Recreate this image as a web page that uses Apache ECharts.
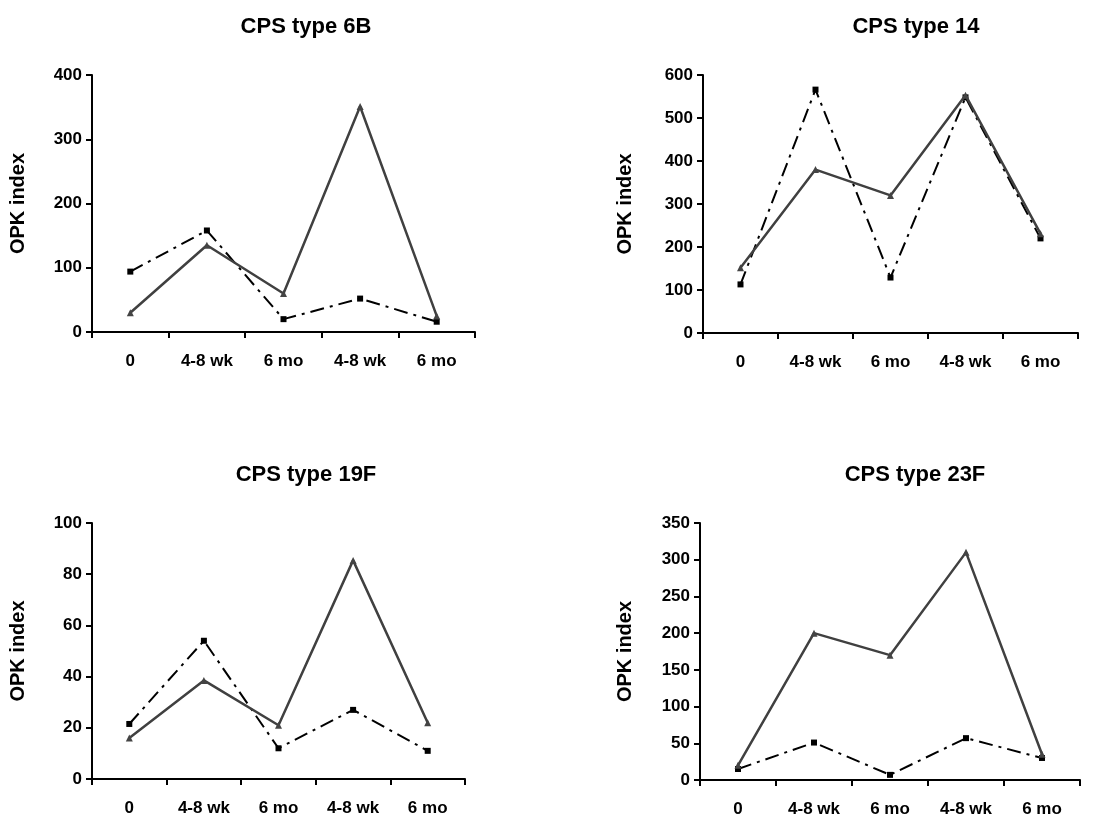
<!DOCTYPE html>
<html>
<head>
<meta charset="utf-8">
<script src="https://cdn.jsdelivr.net/npm/echarts@6/dist/echarts.min.js"></script>
<style>
html,body{margin:0;padding:0;background:#fff;}
#c{width:1112px;height:821px;}
</style>
</head>
<body>
<div id="c"></div>
<script>
const categories = ['0', '4-8 wk', '6 mo', '4-8 wk', '6 mo'];
const panelTitles = ['CPS type 6B', 'CPS type 14', 'CPS type 19F', 'CPS type 23F'];
const yMax = [400, 600, 100, 350];
const yInterval = [100, 100, 20, 50];
// solid gray line with triangle markers
const solid6B  = [30, 135, 60, 351, 25];
const solid14  = [152, 380, 320, 553, 231];
const solid19F = [16, 38.5, 21, 85.4, 22];
const solid23F = [20, 200, 170, 310, 35];
// dash-dot black line with square markers
const dashed6B  = [94, 158, 20, 52, 16];
const dashed14  = [113, 566, 129, 548, 220];
const dashed19F = [21.5, 54, 12, 27, 11];
const dashed23F = [15, 51, 7, 57, 30];

const solidData = [solid6B, solid14, solid19F, solid23F];
const dashedData = [dashed6B, dashed14, dashed19F, dashed23F];

const FONT = '"Liberation Sans", Arial, sans-serif';
const grids = [
  {left: 92, top: 75, width: 383, height: 257},
  {left: 703, top: 75, width: 375, height: 258},
  {left: 92, top: 523, width: 373, height: 256},
  {left: 700, top: 523, width: 380, height: 257}
];
const titlePos = [[301, 11], [911, 11], [301, 459], [910, 459]];
const nameGaps = [64, 68, 64, 65];

const option = {
  animation: false,
  backgroundColor: '#fff',
  title: panelTitles.map((t, i) => ({
    text: t, left: titlePos[i][0], top: titlePos[i][1], textAlign: 'center',
    textStyle: {fontFamily: FONT, fontWeight: 'bold', fontSize: 22, color: '#000'}
  })),
  grid: grids,
  xAxis: grids.map((g, i) => ({
    type: 'category', gridIndex: i, data: categories, boundaryGap: true,
    axisLine: {show: true, lineStyle: {color: '#000', width: 2}},
    axisTick: {show: true, inside: false, length: 6, lineStyle: {color: '#000', width: 2}},
    axisLabel: {margin: 21, fontFamily: FONT, fontWeight: 'bold', fontSize: 17, color: '#000'},
    splitLine: {show: false}
  })),
  yAxis: grids.map((g, i) => ({
    type: 'value', gridIndex: i, min: 0, max: yMax[i], interval: yInterval[i],
    name: 'OPK index', nameLocation: 'middle', nameGap: nameGaps[i],
    nameTextStyle: {fontFamily: FONT, fontWeight: 'bold', fontSize: 20, color: '#000'},
    axisLine: {show: true, lineStyle: {color: '#000', width: 2}},
    axisTick: {show: true, inside: false, length: 6, lineStyle: {color: '#000', width: 2}},
    axisLabel: {margin: 10, fontFamily: FONT, fontWeight: 'bold', fontSize: 17, color: '#000'},
    splitLine: {show: false}
  })),
  series: []
};

for (let i = 0; i < 4; i++) {
  option.series.push({
    type: 'line', xAxisIndex: i, yAxisIndex: i, data: dashedData[i],
    symbol: 'rect', symbolSize: 6,
    itemStyle: {color: '#000'},
    lineStyle: {color: '#000', width: 2, type: [14, 6, 3, 6]},
    z: 2
  });
  option.series.push({
    type: 'line', xAxisIndex: i, yAxisIndex: i, data: solidData[i],
    symbol: 'triangle', symbolSize: 7,
    itemStyle: {color: '#444'},
    lineStyle: {color: '#404040', width: 2.5, type: 'solid'},
    z: 3
  });
}

const chart = echarts.init(document.getElementById('c'), null, {renderer: 'canvas'});
chart.setOption(option);
</script>
</body>
</html>
